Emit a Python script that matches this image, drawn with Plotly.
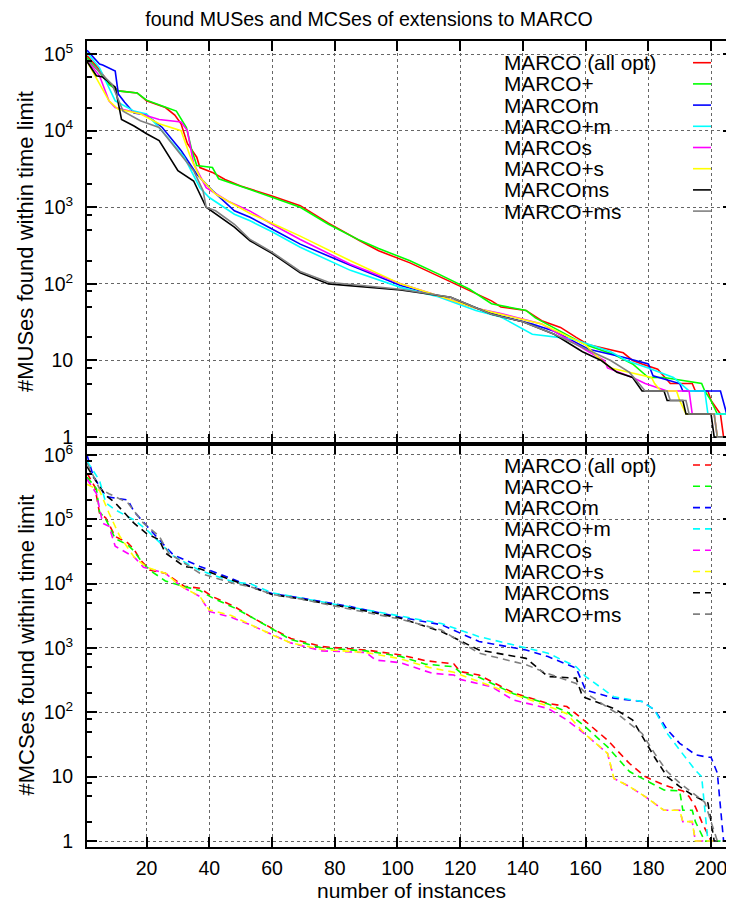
import plotly.graph_objects as go

# ---------------- data: MUSes (top panel) ----------------
series_names = ["MARCO (all opt)", "MARCO+", "MARCOm", "MARCO+m",
                "MARCOs", "MARCO+s", "MARCOms", "MARCO+ms"]

mus_red_x = [1, 4, 8, 11, 17, 20, 26, 29, 31, 33, 36, 37, 41, 45, 50, 53, 60, 69, 78, 88, 94, 104, 113, 123, 130, 133, 141, 146, 152, 157, 161, 172, 175, 178, 183, 187, 194, 195, 199, 200, 203, 204, 205]
mus_red_y = [95000, 70000, 42000, 33000, 31000, 24500, 20000, 16000, 12300, 6800, 4500, 3300, 2850, 2300, 1900, 1740, 1400, 1050, 620, 365, 270, 188, 127, 81, 60, 50, 45, 33, 27, 20, 16, 12.6, 10, 9, 7.7, 5, 5, 4, 4, 3, 2, 1, 1]

mus_green_x = [1, 4, 8, 11, 17, 20, 25, 29.5, 32.7, 34.3, 36, 41, 43, 50, 53, 60, 69, 78, 88, 94, 104, 113, 123, 130, 141, 144, 149, 154, 160, 169, 175, 180, 185, 197, 198, 200, 202, 206.5]
mus_green_y = [90000, 65000, 40000, 33000, 31000, 25000, 21000, 18000, 11000, 5800, 3500, 3300, 2350, 1900, 1700, 1350, 1000, 600, 370, 290, 200, 135, 85, 55, 45, 36, 28, 22, 16, 12, 9, 6, 6, 5, 4, 3, 2, 2]

mus_blue_x = [1, 5, 6, 10, 11, 13, 16, 20, 25, 31, 36, 41, 48, 53, 60, 69, 85, 101, 113, 125, 133, 143, 150, 161, 172, 180, 181.5, 190, 191, 203, 205, 207]
mus_blue_y = [112000, 74000, 72000, 60000, 30000, 23500, 17000, 16000, 11000, 5500, 2700, 1650, 900, 740, 520, 330, 175, 95, 70, 48, 38, 30, 24, 14, 11, 9, 6.3, 5, 4, 4, 2, 2]

mus_cyan_x = [1, 5, 10, 16, 20, 25, 32, 37, 40, 48, 53, 60, 69, 85, 101, 113, 125, 133, 143, 156, 168, 173, 180, 188, 193, 198, 199, 205.5]
mus_cyan_y = [105000, 66000, 24500, 18000, 16500, 9800, 4500, 1800, 1340, 810, 665, 480, 300, 150, 90, 68, 45, 37, 22, 19, 13, 10, 8, 6, 4, 4, 2, 2]

mus_magenta_x = [1, 5, 8, 10, 18, 24, 31, 33, 35, 39, 46, 53, 60, 69, 85, 101, 113, 125, 133, 146, 161, 166, 167, 175, 179, 186, 193, 194, 201, 202, 207]
mus_magenta_y = [83000, 52000, 24500, 20000, 16600, 14000, 13000, 10000, 3700, 1800, 1200, 890, 600, 380, 180, 100, 70, 48, 41, 30, 13, 10, 8, 6, 5, 4, 4, 2, 2, 1, 1]

mus_yellow_x = [1, 5, 8, 11, 18, 24, 31, 34, 37, 42, 53, 60, 69, 85, 101, 113, 125, 133, 146, 160, 164, 168, 181, 182, 184, 189, 190, 192, 201, 202, 207]
mus_yellow_y = [80000, 41000, 24500, 19000, 16600, 12300, 10000, 4500, 2450, 1480, 830, 620, 420, 200, 100, 70, 48, 40, 30, 16, 11, 8, 6, 5, 4, 4, 3, 2, 2, 1, 1]

mus_black_x = [1, 4, 6, 10, 12, 16, 20, 24, 30, 35, 39, 48, 53, 60, 69, 78, 101, 117, 130, 140, 150, 159, 165, 170, 175, 178, 185, 186, 191, 192, 200, 201, 207]
mus_black_y = [80000, 52000, 50000, 37000, 14000, 11500, 9100, 7400, 3000, 2200, 1000, 550, 365, 250, 140, 100, 83, 67, 40, 32, 22, 13, 10, 7, 6, 4, 4, 3, 3, 2, 2, 1, 1]

mus_gray_x = [1, 5, 9, 12.5, 18, 24, 30, 35, 38, 39, 42, 48, 53, 60, 69, 78, 101, 117, 130, 140, 150, 162, 168, 174, 179, 186, 187, 192, 193, 201, 202, 207]
mus_gray_y = [85000, 59000, 40000, 18000, 13500, 11000, 5500, 3000, 1650, 1000, 900, 600, 380, 260, 145, 105, 85, 67, 40, 32, 22, 13, 10, 7, 4, 4, 3, 3, 2, 2, 1, 1]

# ---------------- data: MCSes (bottom panel) ----------------
mcs_red_x = [1, 3.5, 5, 7, 10, 14, 16, 18, 21, 26, 32, 37, 41, 48, 53, 60, 66, 76, 90, 101, 109, 118, 120, 126, 137, 148, 154, 160, 167, 174, 179, 185, 191, 193, 195, 197, 200, 202]
mcs_red_y = [520000, 320000, 125000, 105000, 54000, 43000, 34000, 23500, 16300, 14500, 9100, 8500, 6300, 4400, 3100, 2000, 1400, 1050, 930, 780, 635, 565, 430, 380, 200, 138, 123, 72, 37, 16, 10, 7.4, 6, 4.9, 3.4, 2, 1, 1]

mcs_green_x = [1, 4, 5, 7, 10, 14, 16, 19, 22, 26, 32, 37, 41, 48, 53, 60, 66, 76, 90, 101, 109, 118, 120, 126, 137, 148, 154, 160, 167, 174, 179, 185, 190, 191, 194, 195, 198, 203]
mcs_green_y = [450000, 300000, 130000, 100000, 50000, 40000, 32000, 20000, 15000, 11000, 9000, 7800, 6000, 4200, 3100, 2000, 1350, 1000, 900, 740, 560, 510, 420, 350, 195, 135, 102, 59, 29, 12, 9, 6.2, 6, 3, 3, 2, 1, 1]

mcs_blue_x = [1, 3, 7, 14, 16, 20, 24, 28.5, 37, 48, 53, 60, 69, 85, 101, 114, 126, 141, 148, 157, 160, 169, 178, 182, 186, 190, 195, 199, 200, 202, 204, 206]
mcs_blue_y = [1000000, 470000, 225000, 200000, 132000, 78000, 48000, 28000, 18500, 11500, 9100, 7000, 6000, 4400, 3000, 2300, 1260, 930, 735, 485, 222, 166, 147, 109, 54, 33, 22, 20, 20, 11.4, 1, 1]

mcs_cyan_x = [1, 5, 7, 10, 16, 20, 28.5, 37, 48, 53, 60, 69, 85, 101, 114, 126, 141, 148, 157, 160, 169, 178, 182, 186, 190, 195, 197, 199, 203]
mcs_cyan_y = [800000, 400000, 180000, 140000, 98000, 69000, 27000, 16000, 10500, 10000, 7200, 6000, 4400, 3100, 2400, 1500, 1000, 830, 510, 360, 174, 147, 109, 47, 26, 12.6, 10, 1, 1]

mcs_magenta_x = [1, 4, 6, 8, 10, 16, 19, 26, 31, 37, 40, 47, 53, 60, 66, 76, 90, 93, 101, 111, 118, 120, 130, 137, 148, 154, 160, 167, 168, 169, 174, 179, 185, 190, 191, 194, 195, 201]
mcs_magenta_y = [420000, 250000, 87000, 78000, 38000, 26000, 18000, 14500, 9100, 6300, 3700, 3000, 2300, 1600, 1200, 900, 850, 650, 590, 405, 380, 325, 250, 155, 115, 76, 45, 23, 15, 9.4, 7, 4.9, 3, 3, 2, 2, 1, 1]

mcs_yellow_x = [1, 5, 8, 11.5, 16, 20, 26, 31, 37, 40, 47, 53, 60, 66, 76, 90, 101, 110, 118, 126, 137, 148, 154, 160, 167, 168, 169, 174, 179, 185, 190, 191, 194, 195, 201]
mcs_yellow_y = [350000, 280000, 125000, 54000, 26000, 18000, 14500, 9100, 6300, 3900, 3200, 2300, 1600, 1200, 950, 850, 680, 500, 420, 300, 190, 125, 95, 45, 23, 15, 9.4, 7, 4.9, 3, 3, 2, 2, 1, 1]

mcs_black_x = [1, 5, 7, 10, 16, 20, 24, 26, 32, 37, 48, 53, 60, 69, 85, 101, 114, 126, 141, 148, 157, 159, 169, 175, 178, 182, 186, 190, 194, 199, 200, 201, 203]
mcs_black_y = [660000, 320000, 235000, 180000, 87000, 60000, 48000, 30000, 18500, 17000, 11000, 9000, 6800, 5800, 4200, 2900, 1800, 930, 690, 360, 340, 175, 115, 76, 42, 20, 10, 7, 5.2, 3.9, 2, 1, 1]

mcs_gray_x = [1, 5, 8, 14, 19, 24, 27, 37, 48, 53, 60, 69, 85, 101, 114, 126, 141, 148, 157, 160, 170, 178, 182, 186, 190, 195, 198, 200, 202, 204]
mcs_gray_y = [750000, 300000, 250000, 180000, 87000, 55000, 30000, 14500, 10000, 9000, 6800, 5800, 4000, 2800, 1900, 830, 550, 400, 280, 200, 96, 47, 23, 12, 8, 5.2, 4, 2, 1, 1]

x_ticks = [20, 40, 60, 80, 100, 120, 140, 160, 180, 200]
mus_ticks = [1, 10, 100, 1000, 10000, 100000]
mus_tick_text = ["1", "10", "10<sup>2</sup>", "10<sup>3</sup>", "10<sup>4</sup>", "10<sup>5</sup>"]
mcs_ticks = [1, 10, 100, 1000, 10000, 100000, 1000000]
mcs_tick_text = ["1", "10", "10<sup>2</sup>", "10<sup>3</sup>", "10<sup>4</sup>", "10<sup>5</sup>", "10<sup>6</sup>"]

# ---------------- styling ----------------
colors = ["#ff0000", "#00ff00", "#0000ff", "#00ffff", "#ff00ff", "#ffff00", "#000000", "#808080"]
FONT = "Liberation Sans, Arial, Helvetica, sans-serif"

# the page body has an 8px margin, so the figure is offset by 8px in the window
OFF = 8
W, H = 734 - OFF, 902 - OFF
# positions below are given in window pixels of the reference
L, R, T, B = 87, 733, 41, 847


def px(xp):
    return (xp - L) / (R - L)


def py(yp):
    return (B - yp) / (B - T)


mus_series = [(mus_red_x, mus_red_y), (mus_green_x, mus_green_y), (mus_blue_x, mus_blue_y),
              (mus_cyan_x, mus_cyan_y), (mus_magenta_x, mus_magenta_y), (mus_yellow_x, mus_yellow_y),
              (mus_black_x, mus_black_y), (mus_gray_x, mus_gray_y)]
mcs_series = [(mcs_red_x, mcs_red_y), (mcs_green_x, mcs_green_y), (mcs_blue_x, mcs_blue_y),
              (mcs_cyan_x, mcs_cyan_y), (mcs_magenta_x, mcs_magenta_y), (mcs_yellow_x, mcs_yellow_y),
              (mcs_black_x, mcs_black_y), (mcs_gray_x, mcs_gray_y)]

fig = go.Figure()
for name, c, (xs, ys) in zip(series_names, colors, mus_series):
    fig.add_trace(go.Scatter(x=xs, y=ys, mode="lines", name=name, showlegend=False,
                             line=dict(color=c, width=1.6), xaxis="x", yaxis="y"))
for name, c, (xs, ys) in zip(series_names, colors, mcs_series):
    fig.add_trace(go.Scatter(x=xs, y=ys, mode="lines", name=name, showlegend=False,
                             line=dict(color=c, width=1.6, dash="7px,5px"), xaxis="x2", yaxis="y2"))


def minor_vals(maxdec):
    out = []
    for d in range(0, maxdec + 1):
        for m in (2, 5, 8):
            out.append(m * 10 ** d)
    return out


common_x = dict(range=[1, 207], showline=True, linecolor="black", linewidth=2, mirror="allticks",
                ticks="inside", ticklen=10, tickwidth=1.5, tickcolor="black", tickvals=x_ticks,
                showgrid=True, gridcolor="#666666", griddash="dot", gridwidth=1, zeroline=False,
                tickfont=dict(family=FONT, size=19.5, color="black"))
common_y = dict(type="log", showline=True, linecolor="black", linewidth=2, mirror="allticks",
                ticks="inside", ticklen=10, tickwidth=1.5, tickcolor="black",
                showgrid=True, gridcolor="#666666", griddash="dot", gridwidth=1, zeroline=False,
                tickfont=dict(family=FONT, size=19.5, color="black"), ticklabelstandoff=8)

fig.update_layout(
    width=W, height=H,
    margin=dict(l=L - OFF, r=(W + OFF) - R, t=T - OFF, b=(H + OFF) - B, autoexpand=False),
    paper_bgcolor="white", plot_bgcolor="white",
    font=dict(family=FONT, color="black"),
    showlegend=False,
    title=dict(text="found MUSes and MCSes of extensions to MARCO", x=(369 - OFF) / W, xref="container",
               y=1 - (19 - OFF) / H, yref="container", yanchor="middle", xanchor="center",
               font=dict(family=FONT, size=19.6, color="black")),
    xaxis=dict(common_x, anchor="y", showticklabels=False),
    yaxis=dict(common_y, domain=[0.5, 1], anchor="x", range=[-0.09, 5.17],
               tickvals=mus_ticks, ticktext=mus_tick_text,
               minor=dict(tickvals=minor_vals(4), ticks="inside", ticklen=5, tickwidth=1.5,
                          tickcolor="black", showgrid=False)),
    xaxis2=dict(common_x, anchor="y2", showticklabels=True, ticklabelstandoff=3),
    yaxis2=dict(common_y, domain=[0, 0.5], anchor="x2", range=[-0.093, 6.17],
                tickvals=mcs_ticks, ticktext=mcs_tick_text,
                minor=dict(tickvals=minor_vals(5), ticks="inside", ticklen=5, tickwidth=1.5,
                           tickcolor="black", showgrid=False)),
)

# axis titles (placed as annotations for exact positions)
fig.add_annotation(text="#MUSes found within time limit", x=px(26), y=(py(41) + py(443)) / 2,
                   xref="paper", yref="paper", textangle=-90, showarrow=False,
                   xanchor="center", yanchor="middle", font=dict(family=FONT, size=22, color="black"))
fig.add_annotation(text="#MCSes found within time limit", x=px(26), y=(py(444) + py(847)) / 2,
                   xref="paper", yref="paper", textangle=-90, showarrow=False,
                   xanchor="center", yanchor="middle", font=dict(family=FONT, size=22, color="black"))
fig.add_annotation(text="number of instances", x=px(411), y=py(890), xref="paper", yref="paper",
                   showarrow=False, xanchor="center", yanchor="middle",
                   font=dict(family=FONT, size=21, color="black"))

# gnuplot-style keys: text on the left, sample on the right
for panel, (y0, dy, dash) in enumerate([(62.7, 21.2, "solid"), (465.0, 21.3, "7px,5px")]):
    for i, (name, c) in enumerate(zip(series_names, colors)):
        yc = y0 + i * dy
        fig.add_annotation(text=name, x=px(502), y=py(yc), xref="paper", yref="paper",
                           showarrow=False, xanchor="left", yanchor="middle",
                           font=dict(family=FONT, size=20.8, color="black"))
        fig.add_shape(type="line", xref="paper", yref="paper", x0=px(693), x1=px(711),
                      y0=py(yc), y1=py(yc), line=dict(color=c, width=1.6, dash=dash))

fig.write_html("out.html")
